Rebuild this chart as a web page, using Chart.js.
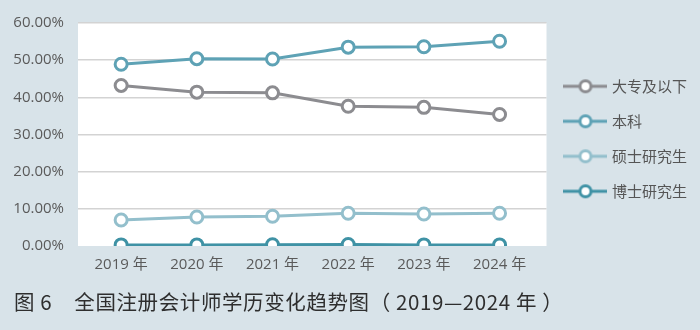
<!DOCTYPE html>
<html>
<head>
<meta charset="utf-8">
<script src="https://cdn.jsdelivr.net/npm/chart.js@4.4.0/dist/chart.umd.min.js"></script>
<style>
html,body{margin:0;padding:0;background:#d8e3e9;}
#wrap{position:relative;width:700px;height:330px;}
#c{position:absolute;left:0;top:0;}
#title{position:absolute;left:14px;top:286px;font-family:"Noto Sans CJK SC","Noto Sans",sans-serif;font-size:20.5px;color:#2e2e2e;white-space:pre;letter-spacing:0.6px;}
#title .gap{display:inline-block;width:22px;}
</style>
</head>
<body>
<div id="wrap">
<canvas id="c" width="700" height="330"></canvas>
<div id="title">图 6<span class="gap"></span>全国注册会计师学历变化趋势图（ 2019—2024 年 ）</div>
</div>
<script>
const years = ["2019 年","2020 年","2021 年","2022 年","2023 年","2024 年"];
const seriesNames = ["大专及以下","本科","硕士研究生","博士研究生"];
const juniorCollege = [43.2, 41.4, 41.2, 37.6, 37.3, 35.4];
const bachelor = [48.9, 50.4, 50.3, 53.5, 53.6, 55.1];
const master = [7.0, 7.8, 8.0, 8.8, 8.6, 8.8];
const doctor = [0.3, 0.3, 0.35, 0.4, 0.3, 0.3];
const yTicks = [0,10,20,30,40,50,60];

const colors = ["#8c8c90","#5ea2b5","#93bfcc","#3f92a5"];
const allValues = [juniorCollege, bachelor, master, doctor];

function legendIcon(color){
  const cv = document.createElement('canvas');
  cv.width = 44; cv.height = 16;
  const g = cv.getContext('2d');
  g.strokeStyle = color; g.lineWidth = 3;
  g.beginPath(); g.moveTo(0,8); g.lineTo(44,8); g.stroke();
  g.fillStyle = '#fff';
  g.beginPath(); g.arc(22,8,5.5,0,Math.PI*2); g.fill(); g.stroke();
  return cv;
}

const datasets = allValues.map((vals,i)=>({
  label: seriesNames[i],
  data: vals.map((v,j)=>({x:j,y:v})),
  borderColor: colors[i],
  backgroundColor: '#ffffff',
  pointBackgroundColor: '#ffffff',
  pointBorderColor: colors[i],
  pointBorderWidth: 3,
  pointRadius: 6,
  borderWidth: 3,
  pointStyle: 'circle',
  legendIcon: legendIcon(colors[i])
}));

const bgPlugin = {
  id:'plotBg',
  beforeDraw(chart){
    const a = chart.chartArea, ctx = chart.ctx;
    ctx.save();
    ctx.fillStyle = '#ffffff';
    ctx.fillRect(a.left, a.top, a.right-a.left, a.bottom-a.top);
    ctx.restore();
  }
};

const numFont = {family:'"Open Sans","Noto Sans","Noto Sans CJK SC",sans-serif', size:15};

new Chart(document.getElementById('c'), {
  type:'line',
  data:{datasets},
  options:{
    responsive:false,
    animation:false,
    layout:{padding:{left:0,right:3,top:19,bottom:0}},
    scales:{
      x:{
        type:'linear', min:-0.57, max:5.62,
        afterBuildTicks(s){ s.ticks = years.map((_,i)=>({value:i})); },
        afterFit(s){ s.height = 84; },
        grid:{display:false, drawTicks:false},
        border:{display:false},
        ticks:{callback:(v)=>years[v], color:'#5a5a5a', font:{family:'"Open Sans","Noto Sans CJK SC",sans-serif', size:15}, padding:10, maxRotation:0, autoSkip:false}
      },
      y:{
        min:0, max:60,
        afterBuildTicks(s){ s.ticks = yTicks.map(v=>({value:v})); },
        afterFit(s){ s.width = 78; },
        grid:{color:(c)=> c.tick && c.tick.value===0 ? 'rgba(0,0,0,0)' : '#d3d3d3', lineWidth:1.5, drawTicks:false},
        border:{display:false},
        ticks:{callback:(v)=>v.toFixed(2)+'%', color:'#5a5a5a', font:numFont, padding:14}
      }
    },
    plugins:{
      title:{display:false},
      tooltip:{enabled:false},
      legend:{
        position:'right',
        align:'start',
        title:{display:true, text:' ', padding:{top:35, bottom:0}, font:{size:4}},
        labels:{
          usePointStyle:true,
          pointStyleWidth:38,
          boxHeight:15,
          padding:20,
          color:'#555555',
          font:{family:'"Noto Sans CJK SC",sans-serif', size:15},
          generateLabels(chart){
            return chart.data.datasets.map((d,i)=>({
              text:d.label, pointStyle:d.legendIcon, fillStyle:'#fff', strokeStyle:d.borderColor,
              lineWidth:0, hidden:false, datasetIndex:i, fontColor:'#555555'
            }));
          }
        }
      }
    }
  },
  plugins:[bgPlugin]
});
</script>
</body>
</html>
